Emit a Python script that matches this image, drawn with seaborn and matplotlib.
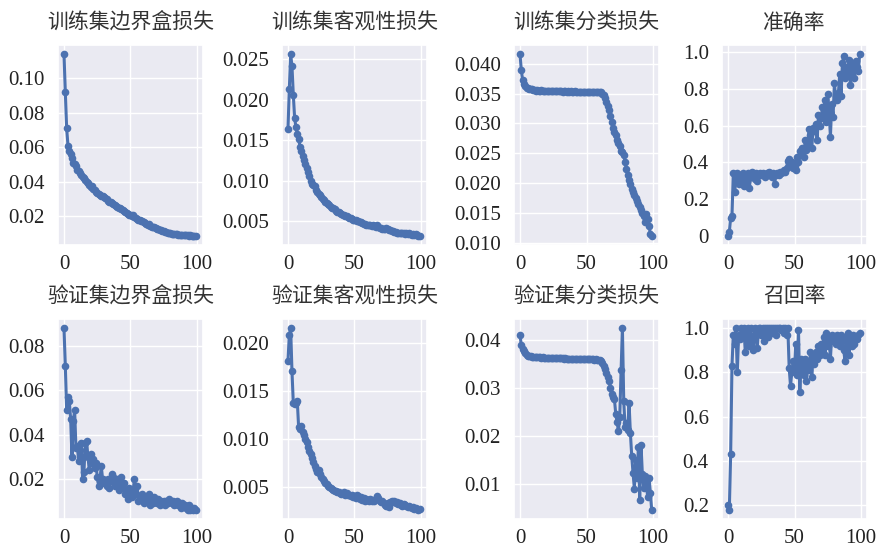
import matplotlib
matplotlib.use('Agg')
import matplotlib.pyplot as plt
import seaborn as sns

# 训练/验证曲线数据
epochs = list(range(100))

train_box = [0.114, 0.092, 0.071, 0.061, 0.058, 0.056, 0.054, 0.051, 0.050, 0.049,
             0.047, 0.046, 0.045, 0.044, 0.043, 0.042, 0.041, 0.040, 0.0395, 0.038,
             0.037, 0.0375, 0.036, 0.0355, 0.034, 0.0335, 0.033, 0.0325, 0.032, 0.0315,
             0.031, 0.0305, 0.030, 0.029, 0.0285, 0.028, 0.0278, 0.027, 0.0265, 0.026,
             0.0255, 0.025, 0.0245, 0.024, 0.0235, 0.023, 0.0225, 0.022, 0.0215, 0.021,
             0.0205, 0.020, 0.0205, 0.0195, 0.019, 0.0185, 0.018, 0.0178, 0.017, 0.0175,
             0.0165, 0.016, 0.0155, 0.015, 0.0155, 0.0145, 0.014, 0.0138, 0.0135, 0.013,
             0.0128, 0.0125, 0.012, 0.0118, 0.0115, 0.0112, 0.011, 0.0108, 0.0105, 0.0103,
             0.010, 0.0099, 0.0098, 0.0097, 0.0098, 0.0096, 0.0094, 0.0093, 0.0092, 0.0091,
             0.009, 0.0091, 0.0090, 0.0089, 0.0088, 0.0090, 0.0087, 0.0086, 0.0087, 0.0086]

train_obj = [0.0164, 0.0213, 0.0256, 0.0241, 0.0206, 0.0177, 0.0166, 0.0157, 0.0152, 0.0142,
             0.0137, 0.0131, 0.0126, 0.0121, 0.0116, 0.0111, 0.0106, 0.0100, 0.0096, 0.0095,
             0.0093, 0.0088, 0.0086, 0.0084, 0.0082, 0.0080, 0.0078, 0.0076, 0.0074, 0.0073,
             0.0071, 0.0070, 0.0068, 0.0067, 0.0066, 0.0065, 0.0063, 0.0062, 0.0061, 0.0060,
             0.0059, 0.0058, 0.0058, 0.0057, 0.0056, 0.0055, 0.0054, 0.0054, 0.0053, 0.0052,
             0.0052, 0.0051, 0.0050, 0.0050, 0.0049, 0.0049, 0.0048, 0.0047, 0.0047, 0.0046,
             0.0046, 0.0045, 0.0045, 0.0044, 0.0045, 0.0044, 0.0043, 0.0046, 0.0043, 0.0042,
             0.0042, 0.0041, 0.0041, 0.0040, 0.0042, 0.0040, 0.0039, 0.0039, 0.0038, 0.0038,
             0.0037, 0.0037, 0.0036, 0.0036, 0.0036, 0.0035, 0.0035, 0.0035, 0.0034, 0.0036,
             0.0034, 0.0035, 0.0034, 0.0033, 0.0034, 0.0033, 0.0034, 0.0033, 0.0032, 0.0032]

train_cls = [0.0416, 0.0389, 0.0372, 0.0366, 0.0363, 0.0360, 0.0359, 0.0358, 0.0357, 0.0357,
             0.0356, 0.0356, 0.0355, 0.0356, 0.0355, 0.0355, 0.0356, 0.0355, 0.0354, 0.0355,
             0.0355, 0.0354, 0.0355, 0.0354, 0.0354, 0.0355, 0.0354, 0.0354, 0.0354, 0.0354,
             0.0354, 0.0354, 0.0353, 0.0354, 0.0354, 0.0353, 0.0354, 0.0353, 0.0354, 0.0353,
             0.0353, 0.0354, 0.0353, 0.0353, 0.0353, 0.0353, 0.0353, 0.0352, 0.0353, 0.0353,
             0.0353, 0.0353, 0.0352, 0.0353, 0.0353, 0.0353, 0.0352, 0.0353, 0.0352, 0.0352,
             0.0353, 0.0352, 0.0350, 0.0347, 0.0342, 0.0336, 0.0330, 0.0322, 0.0313, 0.0303,
             0.0293, 0.0286, 0.0280, 0.0272, 0.0268, 0.0262, 0.0254, 0.0252, 0.0248, 0.0236,
             0.0224, 0.0214, 0.0206, 0.0198, 0.0190, 0.0186, 0.0181, 0.0175, 0.0170, 0.0165,
             0.0160, 0.0155, 0.0150, 0.0146, 0.0136, 0.0148, 0.0140, 0.0128, 0.0116, 0.0112]

precision = [0.00, 0.02, 0.10, 0.11, 0.34, 0.24, 0.30, 0.34, 0.28, 0.33,
             0.31, 0.34, 0.27, 0.33, 0.30, 0.34, 0.26, 0.32, 0.35, 0.33,
             0.31, 0.34, 0.30, 0.33, 0.34, 0.33, 0.34, 0.33, 0.32, 0.34,
             0.33, 0.35, 0.33, 0.32, 0.34, 0.28, 0.33, 0.34, 0.33, 0.35,
             0.34, 0.35, 0.36, 0.35, 0.37, 0.41, 0.42, 0.38, 0.40, 0.37,
             0.38, 0.36, 0.43, 0.40, 0.46, 0.44, 0.48, 0.43, 0.52, 0.47,
             0.50, 0.58, 0.55, 0.48, 0.59, 0.57, 0.61, 0.52, 0.66, 0.60,
             0.64, 0.70, 0.66, 0.74, 0.62, 0.77, 0.68, 0.54, 0.72, 0.65,
             0.83, 0.76, 0.74, 0.78, 0.88, 0.76, 0.94, 0.98, 0.86, 0.92,
             0.88, 0.96, 0.82, 0.94, 0.90, 0.86, 0.95, 0.92, 0.90, 0.99]

val_box = [0.088, 0.071, 0.051, 0.057, 0.055, 0.047, 0.030, 0.046, 0.051, 0.034,
           0.035, 0.028, 0.033, 0.036, 0.020, 0.023, 0.036, 0.037, 0.030, 0.024,
           0.031, 0.027, 0.029, 0.025, 0.027, 0.021, 0.017, 0.019, 0.026, 0.020,
           0.018, 0.019, 0.017, 0.020, 0.016, 0.019, 0.022, 0.021, 0.017, 0.019,
           0.020, 0.015, 0.018, 0.021, 0.016, 0.018, 0.013, 0.015, 0.011, 0.016,
           0.013, 0.012, 0.015, 0.020, 0.013, 0.017, 0.010, 0.012, 0.011, 0.013,
           0.009, 0.011, 0.012, 0.010, 0.013, 0.008, 0.011, 0.009, 0.012, 0.010,
           0.009, 0.011, 0.008, 0.010, 0.009, 0.010, 0.008, 0.010, 0.009, 0.011,
           0.010, 0.009, 0.010, 0.008, 0.009, 0.010, 0.008, 0.009, 0.007, 0.009,
           0.008, 0.008, 0.007, 0.006, 0.008, 0.006, 0.007, 0.006, 0.007, 0.006]

val_obj = [0.0181, 0.0208, 0.0215, 0.0170, 0.0137, 0.0136, 0.0137, 0.0139, 0.0112, 0.0110,
           0.0113, 0.0107, 0.0104, 0.0100, 0.0097, 0.0091, 0.0087, 0.0084, 0.0080, 0.0076,
           0.0072, 0.0069, 0.0065, 0.0067, 0.0063, 0.0060, 0.0058, 0.0056, 0.0054, 0.0053,
           0.0051, 0.0050, 0.0049, 0.0048, 0.0047, 0.0046, 0.0046, 0.0045, 0.0045, 0.0044,
           0.0043, 0.0044, 0.0045, 0.0042, 0.0044, 0.0041, 0.0042, 0.0040, 0.0041, 0.0039,
           0.0040, 0.0038, 0.0042, 0.0040, 0.0037, 0.0039, 0.0036, 0.0038, 0.0035, 0.0037,
           0.0036, 0.0035, 0.0037, 0.0035, 0.0036, 0.0035, 0.0037, 0.0040, 0.0038, 0.0035,
           0.0034, 0.0035, 0.0033, 0.0031, 0.0030, 0.0033, 0.0029, 0.0034, 0.0035, 0.0034,
           0.0035, 0.0033, 0.0034, 0.0032, 0.0033, 0.0031, 0.0030, 0.0032, 0.0031, 0.0030,
           0.0029, 0.0030, 0.0029, 0.0028, 0.0029, 0.0027, 0.0028, 0.0027, 0.0026, 0.0027]

val_cls = [0.0410, 0.0388, 0.0381, 0.0376, 0.0372, 0.0369, 0.0367, 0.0366, 0.0365, 0.0364,
           0.0364, 0.0364, 0.0363, 0.0363, 0.0363, 0.0363, 0.0362, 0.0363, 0.0362, 0.0362,
           0.0362, 0.0362, 0.0362, 0.0361, 0.0362, 0.0361, 0.0361, 0.0361, 0.0361, 0.0361,
           0.0361, 0.0361, 0.0361, 0.0360, 0.0361, 0.0360, 0.0360, 0.0360, 0.0360, 0.0360,
           0.0360, 0.0360, 0.0360, 0.0360, 0.0359, 0.0360, 0.0359, 0.0359, 0.0359, 0.0359,
           0.0359, 0.0359, 0.0359, 0.0359, 0.0359, 0.0359, 0.0358, 0.0359, 0.0358, 0.0358,
           0.0358, 0.0356, 0.0352, 0.0346, 0.0338, 0.0330, 0.0322, 0.0315, 0.0300, 0.0288,
           0.0280, 0.0276, 0.0245, 0.0228, 0.0210, 0.0240, 0.0336, 0.0424, 0.0272, 0.0218,
           0.0226, 0.0212, 0.0268, 0.0205, 0.0158, 0.0122, 0.0090, 0.0150, 0.0112, 0.0176,
           0.0066, 0.0180, 0.0120, 0.0092, 0.0116, 0.0100, 0.0072, 0.0113, 0.0082, 0.0046]

recall = [0.20, 0.18, 0.43, 0.83, 0.97, 0.93, 1.00, 0.80, 0.97, 0.95,
          1.00, 0.96, 1.00, 0.89, 0.97, 1.00, 0.92, 1.00, 0.95, 0.90,
          1.00, 0.97, 0.91, 1.00, 1.00, 0.97, 1.00, 0.94, 1.00, 1.00,
          0.96, 1.00, 1.00, 0.98, 1.00, 1.00, 0.97, 1.00, 1.00, 1.00,
          0.99, 1.00, 0.98, 1.00, 0.97, 1.00, 0.82, 0.74, 0.80, 0.85,
          0.81, 0.93, 0.79, 0.99, 0.71, 0.86, 0.82, 0.79, 0.86, 0.76,
          0.84, 0.81, 0.89, 0.78, 0.88, 0.84, 0.89, 0.86, 0.92, 0.88,
          0.93, 0.90, 0.96, 0.88, 0.98, 0.92, 0.96, 0.86, 0.97, 0.94,
          0.96, 0.93, 0.97, 0.95, 0.92, 0.97, 0.94, 0.90, 0.85, 0.96,
          0.98, 0.88, 0.95, 0.92, 0.97, 0.93, 0.96, 0.95, 0.97, 0.98]

titles = ['训练集边界盒损失', '训练集客观性损失', '训练集分类损失', '准确率',
          '验证集边界盒损失', '验证集客观性损失', '验证集分类损失', '召回率']
series = [train_box, train_obj, train_cls, precision,
          val_box, val_obj, val_cls, recall]
yticks = [[0.02, 0.04, 0.06, 0.08, 0.10],
          [0.005, 0.010, 0.015, 0.020, 0.025],
          [0.010, 0.015, 0.020, 0.025, 0.030, 0.035, 0.040],
          [0.0, 0.2, 0.4, 0.6, 0.8, 1.0],
          [0.02, 0.04, 0.06, 0.08],
          [0.005, 0.010, 0.015, 0.020],
          [0.01, 0.02, 0.03, 0.04],
          [0.2, 0.4, 0.6, 0.8, 1.0]]
ytick_labels = [['0.02', '0.04', '0.06', '0.08', '0.10'],
                ['0.005', '0.010', '0.015', '0.020', '0.025'],
                ['0.010', '0.015', '0.020', '0.025', '0.030', '0.035', '0.040'],
                ['0', '0.2', '0.4', '0.6', '0.8', '1.0'],
                ['0.02', '0.04', '0.06', '0.08'],
                ['0.005', '0.010', '0.015', '0.020'],
                ['0.01', '0.02', '0.03', '0.04'],
                ['0.2', '0.4', '0.6', '0.8', '1.0']]
xticks = [0, 50, 100]

sns.set_theme(style='darkgrid')
plt.rcParams['font.family'] = ['Liberation Serif', 'Noto Sans CJK SC']

W, H = 877, 547
fig = plt.figure(figsize=(W / 100, H / 100), dpi=100)

col_left = [58, 282, 514, 722]
row_bottom = [302, 28]
ax_w, ax_h = 145, 200

color = sns.color_palette('deep')[0]
for i, (vals, title) in enumerate(zip(series, titles)):
    r, c = divmod(i, 4)
    ax = fig.add_axes([col_left[c] / W, row_bottom[r] / H, ax_w / W, ax_h / H])
    sns.lineplot(x=epochs, y=vals, ax=ax, color=color, linewidth=2.2,
                 marker='o', markersize=5.5, markeredgewidth=0)
    ax.set_title(title, fontsize=15, color='#333333', pad=12)
    ax.set_xticks(xticks)
    ax.set_xticklabels([str(t) for t in xticks])
    ax.set_yticks(yticks[i])
    ax.set_yticklabels(ytick_labels[i])
    ax.tick_params(labelsize=15, colors='#222222')
    ax.tick_params(axis='x', pad=1)
    ax.set_xlim(-4.5, 104.5)

fig.savefig('out.png', dpi=100)
